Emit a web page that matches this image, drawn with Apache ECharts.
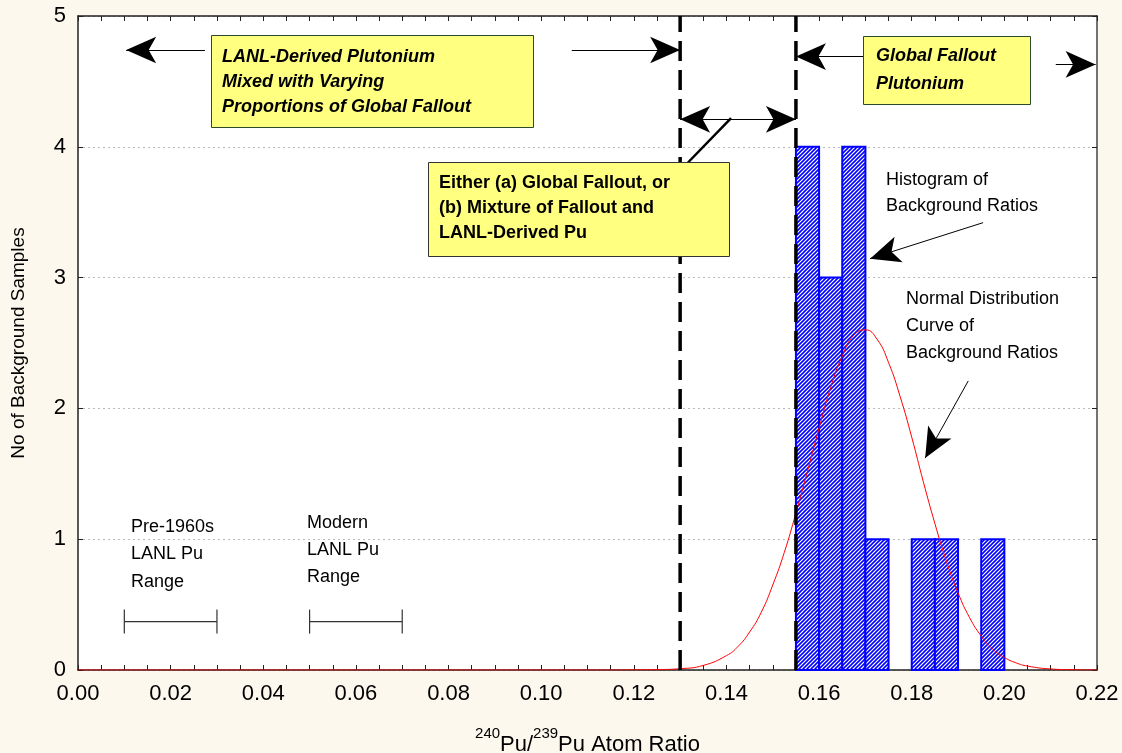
<!DOCTYPE html>
<html>
<head>
<meta charset="UTF-8">
<title>Pu atom ratio histogram</title>
<script src="https://cdn.jsdelivr.net/npm/echarts@6/dist/echarts.min.js"></script>
<style>
  html, body { margin: 0; padding: 0; background: #fcf8ee; }
  #main { width: 1122px; height: 753px; }
</style>
</head>
<body>
<div id="main"></div>
<script>
// histogram bins: [from, to, count]
var binFrom  = [0.155, 0.160, 0.165, 0.170, 0.180, 0.185, 0.195];
var binTo    = [0.160, 0.165, 0.170, 0.175, 0.185, 0.190, 0.200];
var binCount = [4, 3, 4, 1, 1, 1, 1];

// normal distribution curve
var curveX = [0.00, 0.05, 0.10, 0.115, 0.12, 0.125, 0.13, 0.135, 0.14, 0.1425, 0.145, 0.1475, 0.15, 0.1525,
              0.155, 0.1575, 0.16, 0.1625, 0.165, 0.1675, 0.17, 0.1725, 0.175, 0.1775, 0.18, 0.1825,
              0.185, 0.1875, 0.19, 0.1925, 0.195, 0.1975, 0.20, 0.2025, 0.205, 0.21, 0.215, 0.22];
var curveY = [0, 0, 0, 0, 0.001, 0.003, 0.01, 0.035, 0.11, 0.18, 0.29, 0.44, 0.65, 0.90,
              1.20, 1.52, 1.85, 2.16, 2.40, 2.56, 2.60, 2.53, 2.35, 2.09, 1.78, 1.44,
              1.12, 0.83, 0.59, 0.40, 0.26, 0.16, 0.096, 0.055, 0.03, 0.008, 0.002, 0];

// dashed boundaries
var boundaryX = [0.13, 0.155];

// LANL Pu ranges [from, to, y]
var rangeFrom = [0.01, 0.05];
var rangeTo   = [0.03, 0.07];
var rangeY    = 0.37;

// annotation arrows: [x1, y1, x2, y2, heads]  heads: 1 = end only, 2 = both ends, 0 = none
var arrows = [
  [0.0274, 4.74, 0.0104, 4.74, 1],
  [0.1066, 4.74, 0.1300, 4.74, 1],
  [0.1300, 4.21, 0.1550, 4.21, 2],
  [0.1695, 4.69, 0.1550, 4.69, 1],
  [0.2111, 4.63, 0.2197, 4.63, 1],
  [0.1954, 3.42, 0.1710, 3.145, 1],
  [0.1922, 2.21, 0.1829, 1.62, 1],
  [0.1317, 3.88, 0.1410, 4.22, 0]
];

var FONT = '"Liberation Sans", Arial, sans-serif';

// hatch pattern ////
var tile = document.createElement('canvas');
tile.width = 4; tile.height = 4;
var tc = tile.getContext('2d');
tc.fillStyle = '#fff';
tc.fillRect(0, 0, 4, 4);
tc.strokeStyle = '#0000ff';
tc.lineWidth = 1.6;
tc.beginPath();
tc.moveTo(-1, 5); tc.lineTo(5, -1);
tc.moveTo(-3, 3); tc.lineTo(3, -3);
tc.moveTo(1, 7); tc.lineTo(7, 1);
tc.stroke();
var hatch = { image: tile, repeat: 'repeat' };

var bins = binFrom.map(function (f, i) { return [f, binTo[i], binCount[i]]; });
var curve = curveX.map(function (x, i) { return [x, curveY[i]]; });
var ranges = rangeFrom.map(function (f, i) { return [f, rangeTo[i], rangeY]; });

var arrowLines = arrows.map(function (a) {
  var s = { coord: [a[0], a[1]], symbol: a[4] === 2 ? 'arrow' : 'none' };
  var e = { coord: [a[2], a[3]], symbol: a[4] === 0 ? 'none' : 'arrow' };
  if (a[4] === 0) {
    s.lineStyle = { width: 2.5 };
  }
  return [s, e];
});

var chart = echarts.init(document.getElementById('main'));

var axisCommon = {
  type: 'value', min: 0, max: 0.22, interval: 0.02,
  axisLine: { show: true, onZero: false, lineStyle: { color: '#222', width: 1.5 } },
  axisTick: { show: true, inside: true, length: 5, lineStyle: { color: '#222' } },
  minorTick: { show: true, splitNumber: 4, length: 5, lineStyle: { color: '#222' } },
  splitLine: { show: false }
};

chart.setOption({
  backgroundColor: '#fcf8ee',
  animation: false,
  grid: { left: 78, right: 25, top: 16, bottom: 83, show: true, backgroundColor: '#fff', borderWidth: 0,
          containLabel: false, outerBoundsMode: 'none' },
  xAxis: [
    Object.assign({}, axisCommon, {
      position: 'bottom',
      axisLabel: { fontSize: 22, color: '#000', fontFamily: FONT, margin: 13,
        formatter: function (v) { return v.toFixed(2); } },
      name: '{sup|240}{n|Pu/}{sup|239}{n|Pu Atom Ratio}',
      nameLocation: 'middle',
      nameGap: 56,
      nameTextStyle: {
        fontFamily: FONT, color: '#000',
        rich: {
          n: { fontSize: 22, fontFamily: FONT, color: '#000', lineHeight: 30, verticalAlign: 'bottom' },
          sup: { fontSize: 15, fontFamily: FONT, color: '#000', lineHeight: 30, verticalAlign: 'top' }
        }
      }
    }),
    Object.assign({}, axisCommon, {
      position: 'top',
      axisLabel: { show: false }
    })
  ],
  yAxis: [
    {
      type: 'value', min: 0, max: 5, interval: 1,
      axisLine: { show: true, onZero: false, lineStyle: { color: '#222', width: 1.5 } },
      axisTick: { show: true, inside: true, length: 5, lineStyle: { color: '#222' } },
      axisLabel: { fontSize: 22, color: '#000', fontFamily: FONT, margin: 12 },
      splitLine: { show: true, lineStyle: { color: '#bbb', type: [2, 3], width: 1 } },
      name: 'No of Background Samples',
      nameLocation: 'middle',
      nameGap: 50,
      nameTextStyle: { fontSize: 19, color: '#000', fontFamily: FONT }
    },
    {
      type: 'value', min: 0, max: 5, interval: 1, position: 'right',
      axisLine: { show: true, onZero: false, lineStyle: { color: '#444', width: 1.5 } },
      axisTick: { show: true, inside: true, length: 5, lineStyle: { color: '#222' } },
      axisLabel: { show: false },
      splitLine: { show: false }
    }
  ],
  series: [
    {
      name: 'Histogram',
      type: 'custom',
      data: bins,
      encode: { x: [0, 1], y: 2 },
      z: 2,
      renderItem: function (params, api) {
        var p0 = api.coord([api.value(0), api.value(2)]);
        var p1 = api.coord([api.value(1), 0]);
        return {
          type: 'rect',
          shape: { x: p0[0], y: p0[1], width: p1[0] - p0[0], height: p1[1] - p0[1] },
          style: { fill: hatch, stroke: '#0000ff', lineWidth: 2 }
        };
      }
    },
    {
      name: 'Normal',
      type: 'line',
      data: curve,
      smooth: 0.5,
      showSymbol: false,
      z: 3,
      lineStyle: { color: '#ff0000', width: 1 }
    },
    {
      name: 'b1',
      type: 'line',
      data: [[boundaryX[0], 0], [boundaryX[0], 5]],
      showSymbol: false,
      z: 4,
      lineStyle: { color: '#000', width: 3.5, type: [20, 9] }
    },
    {
      name: 'b2',
      type: 'line',
      data: [[boundaryX[1], 0], [boundaryX[1], 5]],
      showSymbol: false,
      z: 4,
      lineStyle: { color: '#000', width: 3.5, type: [20, 9] }
    },
    {
      name: 'Ranges',
      type: 'custom',
      data: ranges,
      encode: { x: [0, 1], y: 2 },
      z: 4,
      renderItem: function (params, api) {
        var a = api.coord([api.value(0), api.value(2)]);
        var b = api.coord([api.value(1), api.value(2)]);
        var st = { stroke: '#333', lineWidth: 1.2 };
        return {
          type: 'group',
          children: [
            { type: 'line', shape: { x1: a[0], y1: a[1], x2: b[0], y2: b[1] }, style: st },
            { type: 'line', shape: { x1: a[0], y1: a[1] - 12, x2: a[0], y2: a[1] + 12 }, style: st },
            { type: 'line', shape: { x1: b[0], y1: b[1] - 12, x2: b[0], y2: b[1] + 12 }, style: st }
          ]
        };
      }
    },
    {
      name: 'Arrows',
      type: 'line',
      data: [],
      markLine: {
        silent: true,
        animation: false,
        symbol: ['none', 'arrow'],
        symbolSize: [20, 30],
        label: { show: false },
        lineStyle: { color: '#000', width: 1, type: 'solid' },
        data: arrowLines
      }
    }
  ],
  graphic: [
    { type: 'rect', left: 211, top: 35, z: 10, shape: { width: 322, height: 92 },
      style: { fill: '#ffff80', stroke: '#2a4a2a', lineWidth: 1 } },
    { type: 'text', left: 222, top: 45, z: 11,
      style: { text: 'LANL-Derived Plutonium\nMixed with Varying\nProportions of Global Fallout',
        font: 'italic bold 18px ' + FONT, fill: '#000', lineHeight: 25 } },

    { type: 'rect', left: 863, top: 36, z: 10, shape: { width: 167, height: 68 },
      style: { fill: '#ffff80', stroke: '#2a4a2a', lineWidth: 1 } },
    { type: 'text', left: 876, top: 42, z: 11,
      style: { text: 'Global Fallout\nPlutonium',
        font: 'italic bold 18px ' + FONT, fill: '#000', lineHeight: 28 } },

    { type: 'rect', left: 428, top: 162, z: 10, shape: { width: 301, height: 94 },
      style: { fill: '#ffff80', stroke: '#333', lineWidth: 1 } },
    { type: 'text', left: 439, top: 171, z: 11,
      style: { text: 'Either (a) Global Fallout, or\n(b) Mixture of Fallout and\nLANL-Derived Pu',
        font: 'bold 18px ' + FONT, fill: '#000', lineHeight: 25 } },

    { type: 'text', left: 886, top: 167, z: 11,
      style: { text: 'Histogram of\nBackground Ratios', font: '18px ' + FONT, fill: '#000', lineHeight: 26 } },
    { type: 'text', left: 906, top: 286, z: 11,
      style: { text: 'Normal Distribution\nCurve of\nBackground Ratios', font: '18px ' + FONT, fill: '#000', lineHeight: 27 } },
    { type: 'text', left: 131, top: 513, z: 11,
      style: { text: 'Pre-1960s\nLANL Pu\nRange', font: '18px ' + FONT, fill: '#000', lineHeight: 27.5 } },
    { type: 'text', left: 307, top: 510, z: 11,
      style: { text: 'Modern\nLANL Pu\nRange', font: '18px ' + FONT, fill: '#000', lineHeight: 27 } }
  ]
});
</script>
</body>
</html>
